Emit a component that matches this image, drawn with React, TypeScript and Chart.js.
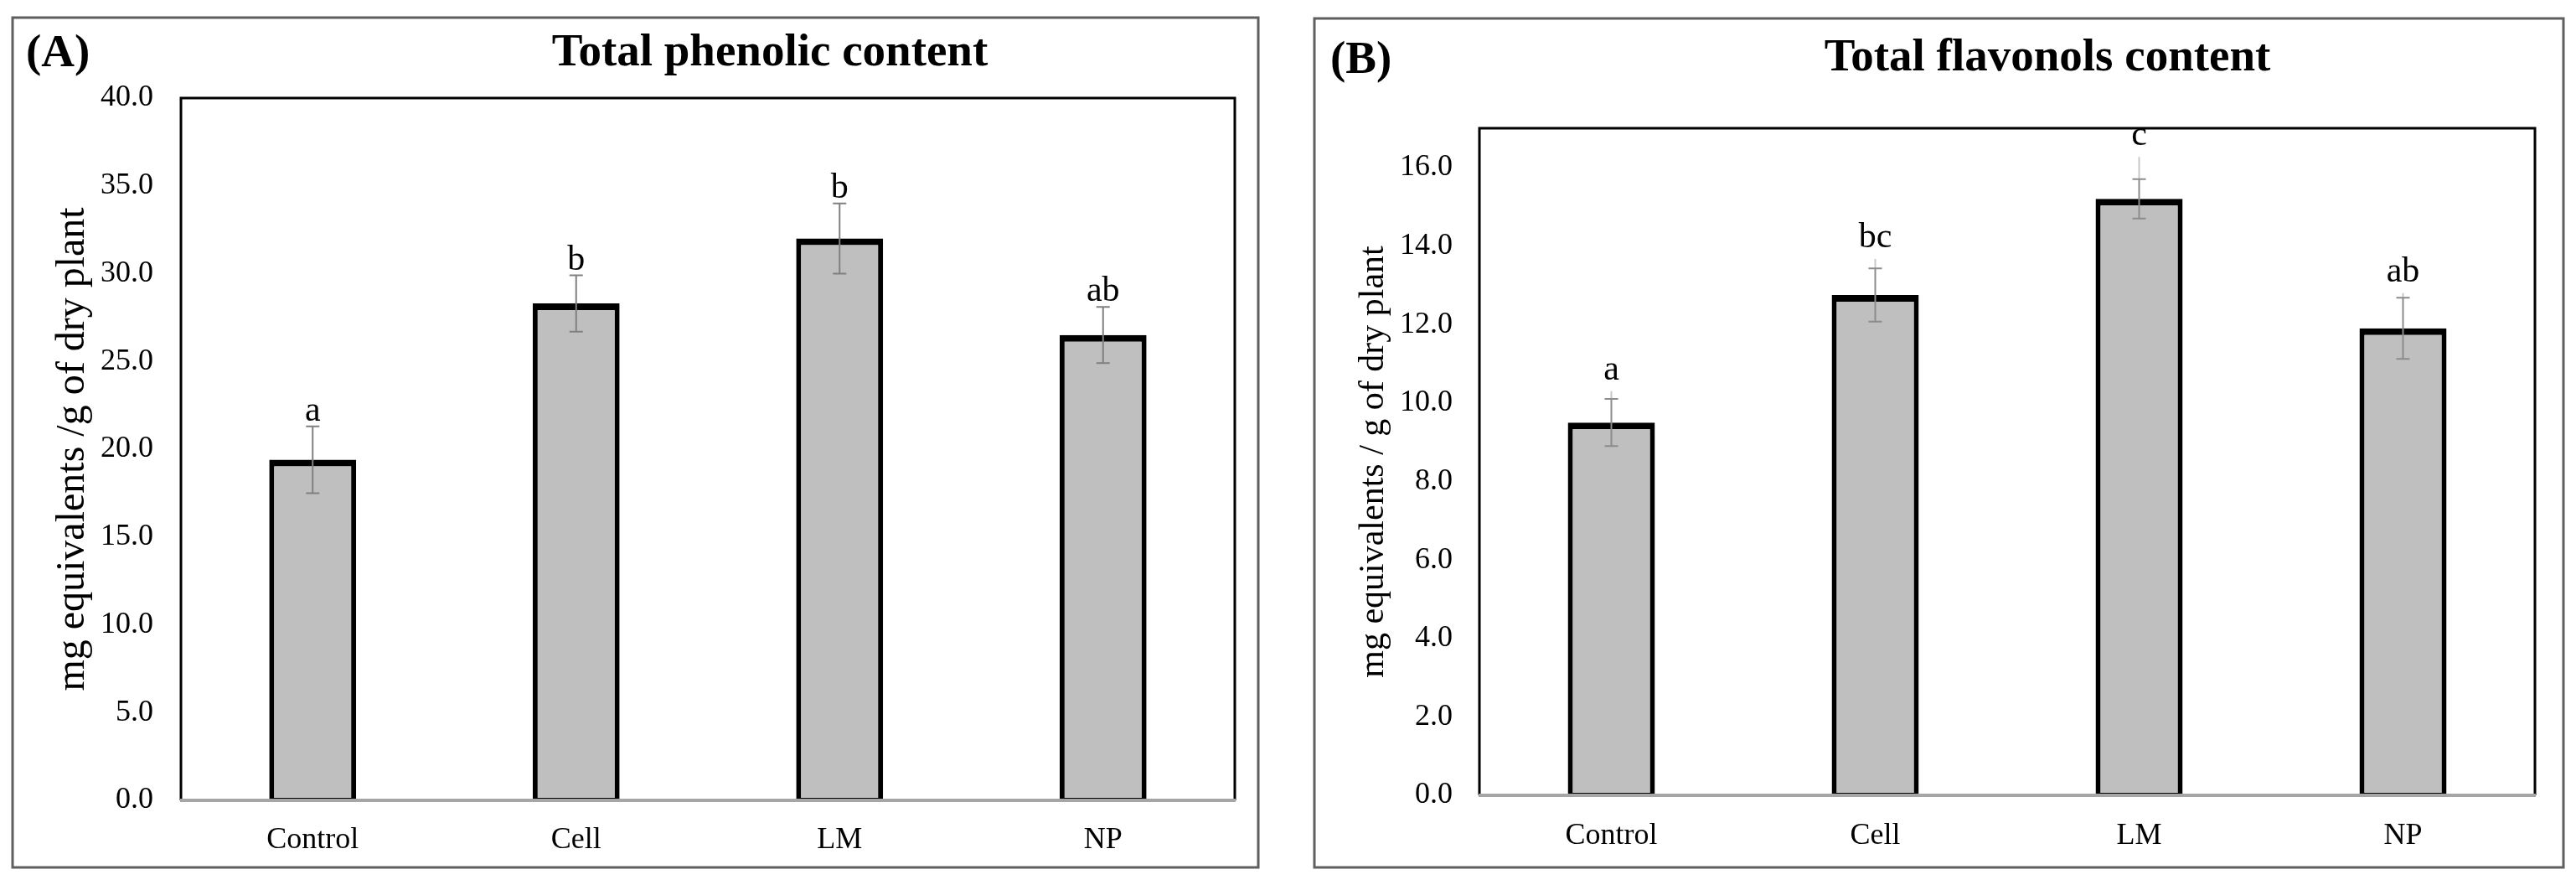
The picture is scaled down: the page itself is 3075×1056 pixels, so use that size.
import React, { useEffect, useRef } from "react";
import { Chart, registerables } from "chart.js";

Chart.register(...registerables);

// ---------------- data ----------------
const categories = ["Control", "Cell", "LM", "NP"];

const phenolicValues = [19.4, 28.3, 32.0, 26.5];
const phenolicErrors = [1.9, 1.6, 2.0, 1.6];
const phenolicLetters = ["a", "b", "b", "ab"];
const phenolicAxis = { min: 0, max: 40, step: 5 };

const flavonolValues = [9.5, 12.75, 15.2, 11.9];
const flavonolErrors = [0.6, 0.68, 0.5, 0.78];
const flavonolUpperExtent = [0.8, 0.92, 1.07, 0.9];
const flavonolLetters = ["a", "bc", "c", "ab"];
const flavonolAxis = { min: 0, max: 17, step: 2 };

const FONT = '"Liberation Serif", "Times New Roman", serif';
const PAGE_H = 1056;

type PanelCfg = {
  canvasLeft: number;
  canvasWidth: number;
  frame: [number, number, number, number];
  plot: { left: number; top: number; right: number; bottom: number };
  tag: string;
  tagPos: [number, number];
  title: string;
  titlePos: [number, number];
  yTitle: string;
  yTitleSize: number;
  yTitleBaseX: number;
  yTickPad: number;
  xTickPad: number;
  values: number[];
  errors: number[];
  ext: number[] | null;
  letters: string[];
  letterGap: number;
  axis: { min: number; max: number; step: number };
  errColor: string;
};

const panels: PanelCfg[] = [
  {
    canvasLeft: 0,
    canvasWidth: 1535,
    frame: [15, 21, 1502, 1035],
    plot: { left: 216, top: 117, right: 1474, bottom: 955 },
    tag: "(A)",
    tagPos: [31, 79],
    title: "Total phenolic content",
    titlePos: [919, 78],
    yTitle: "mg equivalents /g of dry plant",
    yTitleSize: 48,
    yTitleBaseX: 100,
    yTickPad: 33,
    xTickPad: 26,
    values: phenolicValues,
    errors: phenolicErrors,
    ext: null,
    letters: phenolicLetters,
    letterGap: 7,
    axis: phenolicAxis,
    errColor: "#808080",
  },
  {
    canvasLeft: 1535,
    canvasWidth: 1540,
    frame: [1569, 22, 3060, 1035],
    plot: { left: 1766, top: 153, right: 3026, bottom: 949 },
    tag: "(B)",
    tagPos: [1588, 87],
    title: "Total flavonols content",
    titlePos: [2444, 84],
    yTitle: "mg equivalents / g of dry plant",
    yTitleSize: 42,
    yTitleBaseX: 1651,
    yTickPad: 32,
    xTickPad: 27,
    values: flavonolValues,
    errors: flavonolErrors,
    ext: flavonolUpperExtent,
    letters: flavonolLetters,
    letterGap: 14,
    axis: flavonolAxis,
    errColor: "#8c8c8c",
  },
];

function buildConfig(p: PanelCfg): any {
  const ox = p.canvasLeft;
  const overlay = {
    id: "overlay_" + p.tag,
    afterDatasetsDraw(chart: any) {
      const ctx: CanvasRenderingContext2D = chart.ctx;
      const { left, top, right, bottom } = chart.chartArea;
      const ys = chart.scales.y;
      ctx.save();

      // plot frame
      ctx.strokeStyle = "#000";
      ctx.lineWidth = 3;
      ctx.beginPath();
      ctx.moveTo(left, bottom);
      ctx.lineTo(left, top);
      ctx.lineTo(right, top);
      ctx.lineTo(right, bottom);
      ctx.stroke();
      ctx.strokeStyle = "#a6a6a6";
      ctx.lineWidth = 4;
      ctx.beginPath();
      ctx.moveTo(left - 1, bottom);
      ctx.lineTo(right + 1, bottom);
      ctx.stroke();

      // error bars + letters
      const meta = chart.getDatasetMeta(0);
      meta.data.forEach((bar: any, i: number) => {
        const x = bar.x;
        const v = p.values[i];
        const yHi = ys.getPixelForValue(v + p.errors[i]);
        const yLo = ys.getPixelForValue(v - p.errors[i]);
        let topY = yHi;
        if (p.ext) {
          const yExt = ys.getPixelForValue(v + p.ext[i]);
          ctx.strokeStyle = "#c8c8c8";
          ctx.lineWidth = 2;
          ctx.beginPath();
          ctx.moveTo(x, yHi);
          ctx.lineTo(x, yExt);
          ctx.stroke();
          topY = yExt;
        }
        ctx.strokeStyle = p.errColor;
        ctx.lineWidth = 2;
        ctx.beginPath();
        ctx.moveTo(x, yLo);
        ctx.lineTo(x, yHi);
        ctx.moveTo(x - 8, yHi);
        ctx.lineTo(x + 8, yHi);
        ctx.moveTo(x - 8, yLo);
        ctx.lineTo(x + 8, yLo);
        ctx.stroke();

        ctx.fillStyle = "#000";
        ctx.font = `42px ${FONT}`;
        ctx.textAlign = "center";
        ctx.textBaseline = "alphabetic";
        ctx.fillText(p.letters[i], x, topY - p.letterGap);
      });

      // outer frame
      const [fx0, fy0, fx1, fy1] = p.frame;
      ctx.strokeStyle = "#5f5f5f";
      ctx.lineWidth = 3;
      ctx.strokeRect(fx0 - ox, fy0, fx1 - fx0, fy1 - fy0);

      // tag and title
      ctx.fillStyle = "#000";
      ctx.textBaseline = "alphabetic";
      ctx.font = `bold 55px ${FONT}`;
      ctx.textAlign = "left";
      ctx.fillText(p.tag, p.tagPos[0] - ox, p.tagPos[1]);
      ctx.textAlign = "center";
      ctx.fillText(p.title, p.titlePos[0] - ox, p.titlePos[1]);

      // y-axis title
      ctx.save();
      ctx.translate(p.yTitleBaseX - ox, (top + bottom) / 2);
      ctx.rotate(-Math.PI / 2);
      ctx.font = `${p.yTitleSize}px ${FONT}`;
      ctx.textAlign = "center";
      ctx.textBaseline = "alphabetic";
      ctx.fillText(p.yTitle, 0, 0);
      ctx.restore();

      ctx.restore();
    },
  };

  return {
    type: "bar",
    data: {
      labels: categories,
      datasets: [
        {
          data: p.values,
          backgroundColor: "#bfbfbf",
          borderColor: "#000",
          borderWidth: { top: 8, left: 6, right: 6, bottom: 3 },
          borderSkipped: false,
          categoryPercentage: 1,
          barPercentage: 0.33,
        },
      ],
    },
    options: {
      animation: false,
      responsive: false,
      devicePixelRatio: 1,
      events: [],
      layout: {
        padding: {
          left: 0,
          top: p.plot.top,
          right: p.canvasWidth - (p.plot.right - ox),
          bottom: 0,
        },
      },
      plugins: {
        legend: { display: false },
        title: { display: false },
        tooltip: { enabled: false },
      },
      scales: {
        x: {
          grid: { display: false, drawTicks: false },
          border: { display: false },
          ticks: {
            color: "#000",
            font: { family: FONT, size: 36 },
            padding: p.xTickPad,
            maxRotation: 0,
            autoSkip: false,
          },
          afterFit: (s: any) => {
            s.height = PAGE_H - p.plot.bottom;
          },
        },
        y: {
          min: p.axis.min,
          max: p.axis.max,
          grid: { display: false, drawTicks: false },
          border: { display: false },
          ticks: {
            stepSize: p.axis.step,
            includeBounds: false,
            color: "#000",
            font: { family: FONT, size: 36 },
            padding: p.yTickPad,
            callback: (v: any) => Number(v).toFixed(1),
          },
          afterFit: (s: any) => {
            s.width = p.plot.left - ox;
          },
        },
      },
    },
    plugins: [overlay],
  };
}

function Panel({ cfg }: { cfg: PanelCfg }) {
  const ref = useRef<HTMLCanvasElement | null>(null);
  useEffect(() => {
    if (!ref.current) return;
    const chart = new Chart(ref.current, buildConfig(cfg));
    return () => chart.destroy();
  }, [cfg]);
  return (
    <canvas
      ref={ref}
      width={cfg.canvasWidth}
      height={PAGE_H}
      style={{
        position: "absolute",
        left: cfg.canvasLeft,
        top: 0,
        width: cfg.canvasWidth,
        height: PAGE_H,
        display: "block",
      }}
    />
  );
}

export default function App() {
  return (
    <div
      style={{
        position: "fixed",
        left: 0,
        top: 0,
        width: 3075,
        height: PAGE_H,
        background: "#fff",
        overflow: "hidden",
      }}
    >
      {panels.map((p) => (
        <Panel key={p.tag} cfg={p} />
      ))}
    </div>
  );
}
